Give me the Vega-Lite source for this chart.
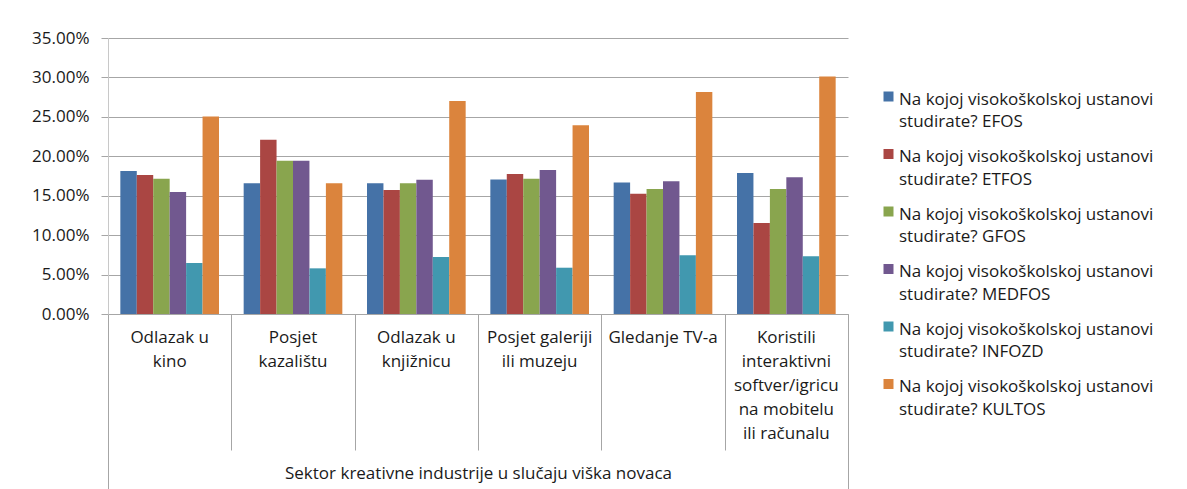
{
  "$schema": "https://vega.github.io/schema/vega-lite/v6.json",
  "width": 740,
  "height": 276,
  "autosize": {"type": "none"},
  "padding": {"left": 108, "top": 38, "right": 339, "bottom": 175},
  "background": "white",
  "config": {
    "font": "Open Sans",
    "view": {"stroke": null},
    "axis": {
      "labelFont": "Open Sans",
      "titleFont": "Open Sans",
      "labelColor": "#1a1a1a",
      "titleColor": "#1a1a1a",
      "domainColor": "#a6a6a6",
      "tickColor": "#a6a6a6",
      "gridColor": "#a6a6a6"
    },
    "legend": {"labelFont": "Open Sans", "labelColor": "#1a1a1a"},
    "style": {"guide-label": {"lineHeight": 22.5}}
  },
  "data": {
    "values": [
      {"sektor": "Odlazak u\nkino", "ustanova": "Na kojoj visokoškolskoj ustanovi studirate? EFOS", "udio": 0.1813},
      {"sektor": "Odlazak u\nkino", "ustanova": "Na kojoj visokoškolskoj ustanovi studirate? ETFOS", "udio": 0.1762},
      {"sektor": "Odlazak u\nkino", "ustanova": "Na kojoj visokoškolskoj ustanovi studirate? GFOS", "udio": 0.1716},
      {"sektor": "Odlazak u\nkino", "ustanova": "Na kojoj visokoškolskoj ustanovi studirate? MEDFOS", "udio": 0.1547},
      {"sektor": "Odlazak u\nkino", "ustanova": "Na kojoj visokoškolskoj ustanovi studirate? INFOZD", "udio": 0.0647},
      {"sektor": "Odlazak u\nkino", "ustanova": "Na kojoj visokoškolskoj ustanovi studirate? KULTOS", "udio": 0.2506},
      {"sektor": "Posjet\nkazalištu", "ustanova": "Na kojoj visokoškolskoj ustanovi studirate? EFOS", "udio": 0.1657},
      {"sektor": "Posjet\nkazalištu", "ustanova": "Na kojoj visokoškolskoj ustanovi studirate? ETFOS", "udio": 0.2210},
      {"sektor": "Posjet\nkazalištu", "ustanova": "Na kojoj visokoškolskoj ustanovi studirate? GFOS", "udio": 0.1944},
      {"sektor": "Posjet\nkazalištu", "ustanova": "Na kojoj visokoškolskoj ustanovi studirate? MEDFOS", "udio": 0.1944},
      {"sektor": "Posjet\nkazalištu", "ustanova": "Na kojoj visokoškolskoj ustanovi studirate? INFOZD", "udio": 0.0579},
      {"sektor": "Posjet\nkazalištu", "ustanova": "Na kojoj visokoškolskoj ustanovi studirate? KULTOS", "udio": 0.1657},
      {"sektor": "Odlazak u\nknjižnicu", "ustanova": "Na kojoj visokoškolskoj ustanovi studirate? EFOS", "udio": 0.1657},
      {"sektor": "Odlazak u\nknjižnicu", "ustanova": "Na kojoj visokoškolskoj ustanovi studirate? ETFOS", "udio": 0.1572},
      {"sektor": "Odlazak u\nknjižnicu", "ustanova": "Na kojoj visokoškolskoj ustanovi studirate? GFOS", "udio": 0.1657},
      {"sektor": "Odlazak u\nknjižnicu", "ustanova": "Na kojoj visokoškolskoj ustanovi studirate? MEDFOS", "udio": 0.1703},
      {"sektor": "Odlazak u\nknjižnicu", "ustanova": "Na kojoj visokoškolskoj ustanovi studirate? INFOZD", "udio": 0.0723},
      {"sektor": "Odlazak u\nknjižnicu", "ustanova": "Na kojoj visokoškolskoj ustanovi studirate? KULTOS", "udio": 0.2700},
      {"sektor": "Posjet galeriji\nili muzeju", "ustanova": "Na kojoj visokoškolskoj ustanovi studirate? EFOS", "udio": 0.1707},
      {"sektor": "Posjet galeriji\nili muzeju", "ustanova": "Na kojoj visokoškolskoj ustanovi studirate? ETFOS", "udio": 0.1775},
      {"sektor": "Posjet galeriji\nili muzeju", "ustanova": "Na kojoj visokoškolskoj ustanovi studirate? GFOS", "udio": 0.1716},
      {"sektor": "Posjet galeriji\nili muzeju", "ustanova": "Na kojoj visokoškolskoj ustanovi studirate? MEDFOS", "udio": 0.1826},
      {"sektor": "Posjet galeriji\nili muzeju", "ustanova": "Na kojoj visokoškolskoj ustanovi studirate? INFOZD", "udio": 0.0587},
      {"sektor": "Posjet galeriji\nili muzeju", "ustanova": "Na kojoj visokoškolskoj ustanovi studirate? KULTOS", "udio": 0.2392},
      {"sektor": "Gledanje TV-a", "ustanova": "Na kojoj visokoškolskoj ustanovi studirate? EFOS", "udio": 0.1669},
      {"sektor": "Gledanje TV-a", "ustanova": "Na kojoj visokoškolskoj ustanovi studirate? ETFOS", "udio": 0.1526},
      {"sektor": "Gledanje TV-a", "ustanova": "Na kojoj visokoškolskoj ustanovi studirate? GFOS", "udio": 0.1585},
      {"sektor": "Gledanje TV-a", "ustanova": "Na kojoj visokoškolskoj ustanovi studirate? MEDFOS", "udio": 0.1682},
      {"sektor": "Gledanje TV-a", "ustanova": "Na kojoj visokoškolskoj ustanovi studirate? INFOZD", "udio": 0.0744},
      {"sektor": "Gledanje TV-a", "ustanova": "Na kojoj visokoškolskoj ustanovi studirate? KULTOS", "udio": 0.2815},
      {"sektor": "Koristili\ninteraktivni\nsoftver/igricu\nna mobitelu\nili računalu", "ustanova": "Na kojoj visokoškolskoj ustanovi studirate? EFOS", "udio": 0.1788},
      {"sektor": "Koristili\ninteraktivni\nsoftver/igricu\nna mobitelu\nili računalu", "ustanova": "Na kojoj visokoškolskoj ustanovi studirate? ETFOS", "udio": 0.1154},
      {"sektor": "Koristili\ninteraktivni\nsoftver/igricu\nna mobitelu\nili računalu", "ustanova": "Na kojoj visokoškolskoj ustanovi studirate? GFOS", "udio": 0.1585},
      {"sektor": "Koristili\ninteraktivni\nsoftver/igricu\nna mobitelu\nili računalu", "ustanova": "Na kojoj visokoškolskoj ustanovi studirate? MEDFOS", "udio": 0.1733},
      {"sektor": "Koristili\ninteraktivni\nsoftver/igricu\nna mobitelu\nili računalu", "ustanova": "Na kojoj visokoškolskoj ustanovi studirate? INFOZD", "udio": 0.0731},
      {"sektor": "Koristili\ninteraktivni\nsoftver/igricu\nna mobitelu\nili računalu", "ustanova": "Na kojoj visokoškolskoj ustanovi studirate? KULTOS", "udio": 0.3013}
    ]
  },
  "encoding": {
    "xOffset": {"field": "ustanova", "sort": null, "scale": {"paddingInner": 0, "paddingOuter": 0}},
    "y": {
      "field": "udio",
      "type": "quantitative",
      "scale": {"domain": [0, 0.35]},
      "axis": {
        "title": null,
        "values": [0, 0.05, 0.1, 0.15, 0.2, 0.25, 0.3, 0.35],
        "format": ".2%",
        "labelFontSize": 17,
        "tickSize": 7,
        "labelPadding": 12,
        "domainColor": "#c8c8c8"
      }
    },
    "color": {
      "field": "ustanova",
      "type": "nominal",
      "sort": null,
      "scale": {"range": ["#4572a7", "#aa4643", "#89a54e", "#71588f", "#4198af", "#db843d"]},
      "legend": {
        "title": null,
        "orient": "none",
        "legendX": 772,
        "legendY": 53,
        "padding": 0,
        "labelExpr": "['Na kojoj visokoškolskoj ustanovi', replace(datum.label, 'Na kojoj visokoškolskoj ustanovi ', '')]",
        "labelFontSize": 17,
        "labelOffset": 2,
        "labelLimit": 400,
        "rowPadding": 17.5,
        "symbolType": "M-1,-1.6H1V0.4H-1Z",
        "symbolSize": 100,
        "symbolStrokeWidth": 0
      }
    }
  },
  "layer": [
    {
      "mark": {"type": "bar"},
      "encoding": {
        "x": {
          "field": "sektor",
          "type": "nominal",
          "sort": null,
          "scale": {"paddingInner": 0.2, "paddingOuter": 0.1},
          "axis": {
            "orient": "bottom",
            "title": "Sektor kreativne industrije u slučaju viška novaca",
            "titleFontSize": 17,
            "titleFontWeight": "normal",
            "titleY": 159,
            "titleBaseline": "middle",
            "labelAngle": 0,
            "labelExpr": "split(datum.label, '\\n')",
            "labelFontSize": 17,
            "labelLineHeight": 24,
            "labelBaseline": "top",
            "labelPadding": 15,
            "ticks": false,
            "domainColor": "#a6a6a6"
          }
        }
      }
    },
    {
      "mark": {"type": "bar", "opacity": 0},
      "encoding": {
        "x": {
          "field": "sektor",
          "type": "nominal",
          "sort": null,
          "scale": {"paddingInner": 0.2, "paddingOuter": 0.1},
          "axis": {
            "orient": "bottom",
            "title": null,
            "labels": false,
            "domain": false,
            "bandPosition": 1.25,
            "tickOffset": -12.333,
            "tickExtra": true,
            "tickSize": 136
          }
        }
      }
    },
    {
      "mark": {"type": "bar", "opacity": 0},
      "encoding": {
        "x": {
          "field": "sektor",
          "type": "nominal",
          "sort": null,
          "scale": {"paddingInner": 0.2, "paddingOuter": 0.1},
          "axis": {
            "orient": "bottom",
            "title": null,
            "labels": false,
            "domain": false,
            "bandPosition": 1.25,
            "tickOffset": -12.333,
            "tickExtra": true,
            "tickSize": 175,
            "tickOpacity": {"condition": {"test": "datum.index >= 0 && datum.index < 1", "value": 0}, "value": 1}
          }
        }
      }
    }
  ],
  "resolve": {"axis": {"x": "independent"}}
}
